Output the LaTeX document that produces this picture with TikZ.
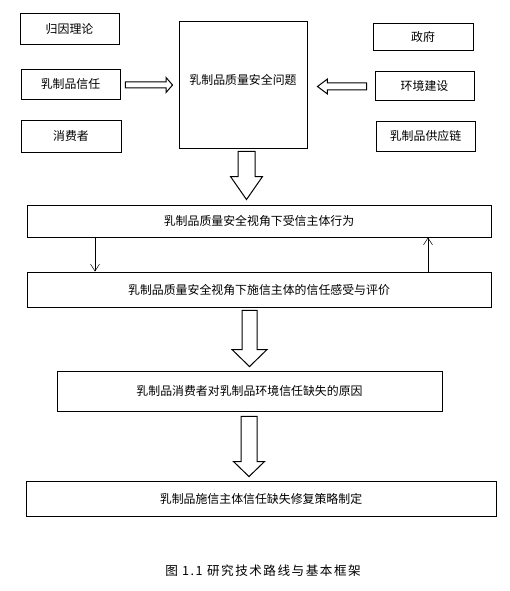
\documentclass[tikz,border=0pt]{standalone}
\usepackage{fontspec}
\newfontfamily\cjk{Noto Sans CJK SC}
\newfontfamily\cjkcap[LetterSpace=12]{Noto Sans CJK SC}
\usetikzlibrary{calc,arrows.meta}
\tikzset{
  box/.style={draw=black,line width=0.9pt,inner sep=0pt,font=\cjk\fontsize{11.9}{14}\selectfont},
  thinarrow/.style={draw=black,line width=0.5pt,-{Straight Barb[length=7pt,width=9pt]}},
  hollow/.style={draw=black,line width=1pt,fill=white,line join=miter}
}
% vertical hollow arrow: #1 top, #2 tip, #3 shaft half width, #4 head half width, #5 head length
\newcommand\hollowdown[5]{%
  \path[hollow] let \p1=(#1), \p2=(#2) in
    (\x1-#3,\y1) -- (\x1+#3,\y1) -- (\x1+#3,\y2+#5) -- (\x1+#4,\y2+#5) --
    (\x1,\y2) -- (\x1-#4,\y2+#5) -- (\x1-#3,\y2+#5) -- cycle;}
% horizontal hollow arrow: #1 tail, #2 tip, #3 shaft half, #4 head half, #5 head length (signed toward tail)
\newcommand\hollowside[5]{%
  \path[hollow] let \p1=(#1), \p2=(#2) in
    (\x1,\y1-#3) -- (\x1,\y1+#3) -- (\x2-#5,\y1+#3) -- (\x2-#5,\y1+#4) --
    (\x2,\y1) -- (\x2-#5,\y1-#4) -- (\x2-#5,\y1-#3) -- cycle;}
\begin{document}
\begin{tikzpicture}[x=1pt,y=-1pt]
\useasboundingbox[fill=white] (0,0) rectangle (510,591);
% left column
\node[box,minimum width=99pt,minimum height=31pt] (r1) at (69.5,28.5) {归因理论};
\node[box,minimum width=99pt,minimum height=30pt] (r2) at (70.5,84) {乳制品信任};
\node[box,minimum width=100pt,minimum height=32pt] (r3) at (71,136) {消费者};
% center
\node[box,minimum width=128pt,minimum height=127pt] (c) at (243,84.5) {};
\node[font=\cjk\fontsize{11.9}{14}\selectfont] (ct) at (243,80) {乳制品质量安全问题};
% right column
\node[box,minimum width=100pt,minimum height=27pt] (g1) at (423,36.5) {政府};
\node[box,minimum width=99pt,minimum height=29pt] (g2) at (424.5,85.5) {环境建设};
\node[box,minimum width=99pt,minimum height=30pt] (g3) at (425.5,136) {乳制品供应链};
% rows
\node[box,minimum width=464pt,minimum height=32pt] (A) at (259,221) {乳制品质量安全视角下受信主体行为};
\node[box,minimum width=464pt,minimum height=35pt] (B) at (259,289.5) {乳制品质量安全视角下施信主体的信任感受与评价};
\node[box,minimum width=385pt,minimum height=40pt] (C) at (249.5,391) {乳制品消费者对乳制品环境信任缺失的原因};
\node[box,minimum width=470pt,minimum height=35pt] (D) at (261,498.5) {乳制品施信主体信任缺失修复策略制定};
\node[font=\cjkcap\fontsize{12.6}{14}\selectfont] (cap) at (263,571) {图 1.1 研究技术路线与基本框架};
% side hollow arrows
\coordinate (la1) at ($(r2.east)+(5,1)$);
\coordinate (la2) at ($(c.west)+(-6,0)$);
\hollowside{la1}{la2}{3pt}{7.5pt}{6.5pt}
\coordinate (ra1) at ($(g2.west)+(-8,1)$);
\coordinate (ra2) at ($(c.east)+(10,0)$);
\hollowside{ra1}{ra2}{3.5pt}{7.5pt}{-10pt}
% down hollow arrows
\coordinate (d1a) at ($(c.south)+(3.5,3)$);
\coordinate (d1b) at ($(A.north)+(0,-5)$);
\hollowdown{d1a}{d1b}{8.5pt}{16pt}{23pt}
\coordinate (d2a) at ($(B.south)+(-9.5,3)$);
\coordinate (d2b) at ($(C.north)+(0,-4)$);
\hollowdown{d2a}{d2b}{7.5pt}{17.5pt}{17pt}
\coordinate (d3a) at ($(C.south)+(-0.5,5)$);
\coordinate (d3b) at ($(D.north)+(0,-4)$);
\hollowdown{d3a}{d3b}{8pt}{15.5pt}{15pt}
% thin arrows between A and B
\draw[thinarrow] (A.south -| 95,0) -- (B.north -| 95,0);
\draw[thinarrow] (B.north -| 428,0) -- (A.south -| 428,0);
\end{tikzpicture}
\end{document}
